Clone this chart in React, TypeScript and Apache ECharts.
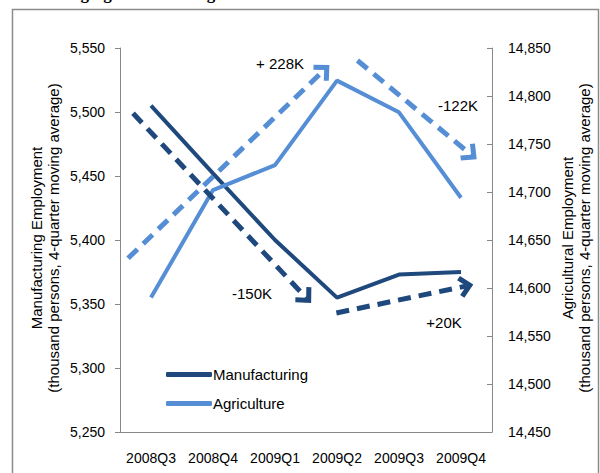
import React, { useEffect, useRef } from "react";
import * as echarts from "echarts";

const quarters = ["2008Q3", "2008Q4", "2009Q1", "2009Q2", "2009Q3", "2009Q4"];
const manufacturing = [5505, 5452, 5400, 5355, 5373, 5375];
const agriculture = [14590, 14702, 14728, 14816, 14783, 14694];

// dashed trend arrows: [start, end] in [category position (0..6), axis value]
const manufArrows = [
  [[0.21, 5499], [3.0, 5355]],
  [[3.49, 5343], [5.58, 5364]],
];
const agriArrows = [
  [[0.13, 14631], [3.29, 14827]],
  [[3.83, 14837], [5.66, 14739]],
];
const notes = [
  { text: "+ 228K", x: 280, y: 63 },
  { text: "-122K", x: 458, y: 105 },
  { text: "-150K", x: 252, y: 293 },
  { text: "+20K", x: 444, y: 322 },
];

const DARK = "#1F497D";
const LIGHT = "#558ED5";
const FONT = "'Liberation Sans', Arial, sans-serif";
const CHEVRON = "path://M11,0 L22,11 L18.5,14.5 L11,7 L3.5,14.5 L0,11 Z";

const fmt = (v: number) => v.toLocaleString("en-US");

export default function App() {
  const ref = useRef<HTMLDivElement>(null);
  useEffect(() => {
    if (!ref.current) return;
    const chart = echarts.init(ref.current, undefined, { renderer: "svg" });
    const arrowSeries = (arrows: number[][][], color: string, yIdx: number) => ({
      type: "line",
      xAxisIndex: 1,
      yAxisIndex: yIdx,
      data: [],
      silent: true,
      markLine: {
        silent: true,
        animation: false,
        symbol: ["none", CHEVRON],
        symbolSize: [22, 15],
        label: { show: false },
        lineStyle: { color, width: 5, type: [13, 8], cap: "butt" },
        emphasis: { disabled: true },
        data: arrows.map((a) => [{ coord: a[0] }, { coord: a[1] }]),
      },
    });
    chart.setOption({
      animation: false,
      grid: { left: 120, right: 108, top: 48, bottom: 41 },
      legend: {
        orient: "vertical",
        left: 161,
        top: 362,
        itemGap: 14,
        icon: "roundRect",
        itemWidth: 46,
        itemHeight: 5,
        textStyle: { fontFamily: FONT, fontSize: 15, color: "#000", padding: [0, 0, 0, -4] },
        data: ["Manufacturing", "Agriculture"],
      },
      xAxis: [
        {
          type: "category",
          data: quarters,
          boundaryGap: true,
          axisLine: { lineStyle: { color: "#888", width: 1 } },
          axisTick: { length: 5, interval: 0, lineStyle: { color: "#888" } },
          axisLabel: { color: "#000", fontFamily: FONT, fontSize: 14, margin: 19, interval: 0 },
        },
        { type: "value", min: 0, max: 6, show: false },
      ],
      yAxis: [
        {
          type: "value",
          min: 5250,
          max: 5550,
          interval: 50,
          splitLine: { show: false },
          axisLine: { show: true, lineStyle: { color: "#888" } },
          axisTick: { show: true, length: 5, lineStyle: { color: "#888" } },
          axisLabel: { color: "#000", fontFamily: FONT, fontSize: 14, margin: 15, formatter: fmt },
        },
        {
          type: "value",
          min: 14450,
          max: 14850,
          interval: 50,
          position: "right",
          splitLine: { show: false },
          axisLine: { show: true, lineStyle: { color: "#888" } },
          axisTick: { show: true, inside: true, length: 5, lineStyle: { color: "#888" } },
          axisLabel: { color: "#000", fontFamily: FONT, fontSize: 14, margin: 16, formatter: fmt },
        },
      ],
      graphic: [
        {
          type: "rect",
          shape: { x: 12.5, y: 9.5, width: 586, height: 500 },
          style: { fill: "none", stroke: "#8c8c8c", lineWidth: 1.5 },
          silent: true,
        },
        {
          type: "text",
          x: 40,
          y: 1.5,
          style: {
            text: "Diverging trends during and after the recession",
            font: "bold 17px 'Liberation Serif', 'Times New Roman', serif",
            fill: "#000",
            verticalAlign: "bottom",
          },
          silent: true,
        },
        {
          type: "text",
          x: 45,
          y: 238,
          rotation: Math.PI / 2,
          style: {
            text: "Manufacturing Employment\n(thousand persons, 4-quarter moving average)",
            font: `15px ${FONT}`,
            fill: "#000",
            align: "center",
            verticalAlign: "middle",
            lineHeight: 17,
          },
          silent: true,
        },
        {
          type: "text",
          x: 576,
          y: 238,
          rotation: Math.PI / 2,
          style: {
            text: "Agricultural Employment\n(thousand persons, 4-quarter moving average)",
            font: `15px ${FONT}`,
            fill: "#000",
            align: "center",
            verticalAlign: "middle",
            lineHeight: 17,
          },
          silent: true,
        },
        ...notes.map((n) => ({
          type: "text",
          x: n.x,
          y: n.y,
          style: {
            text: n.text,
            font: `15px ${FONT}`,
            fill: "#000",
            align: "center",
            verticalAlign: "middle",
          },
          silent: true,
        })),
      ],
      series: [
        arrowSeries(manufArrows, DARK, 0),
        arrowSeries(agriArrows, LIGHT, 1),
        {
          name: "Manufacturing",
          type: "line",
          yAxisIndex: 0,
          data: manufacturing,
          showSymbol: false,
          color: DARK,
          lineStyle: { color: DARK, width: 4 },
        },
        {
          name: "Agriculture",
          type: "line",
          yAxisIndex: 1,
          data: agriculture,
          showSymbol: false,
          color: LIGHT,
          lineStyle: { color: LIGHT, width: 4 },
        },
      ],
    });
    return () => chart.dispose();
  }, []);
  return <div ref={ref} style={{ width: 600, height: 473, position: "absolute", left: 0, top: 0 }} />;
}
